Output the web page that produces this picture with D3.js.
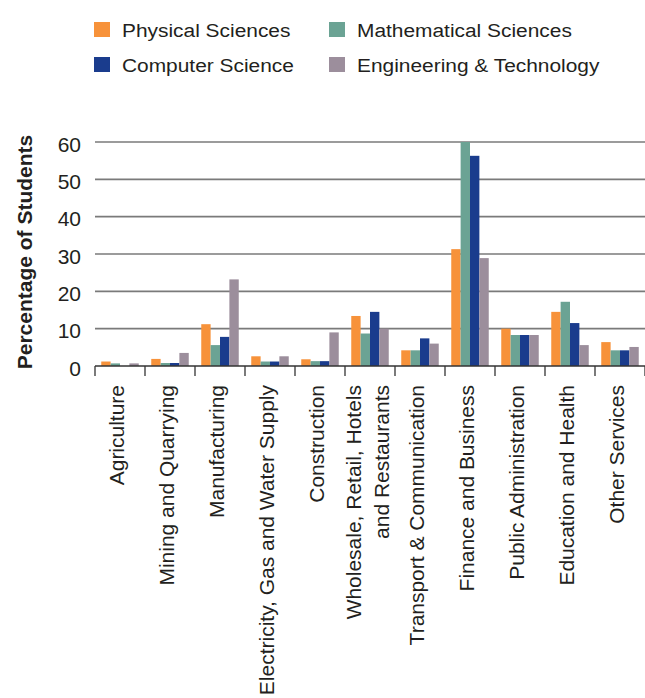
<!DOCTYPE html>
<html><head><meta charset="utf-8">
<script src="https://cdn.jsdelivr.net/npm/d3@7"></script>
<style>body{margin:0;background:#fff;} svg{display:block;font-family:"Liberation Sans",Arial,sans-serif;}</style>
</head><body>
<svg id="c" width="645" height="698"></svg>
<script>
const categories = ["Agriculture","Mining and Quarrying","Manufacturing","Electricity, Gas and Water Supply","Construction",["Wholesale, Retail, Hotels","and Restaurants"],"Transport & Communication","Finance and Business","Public Administration","Education and Health","Other Services"];
const seriesNames = ["Physical Sciences","Mathematical Sciences","Computer Science","Engineering & Technology"];
const colors = ["#F7923A","#6BA394","#1A3C8D","#9C8E9C"];
const physical = [1.2, 1.9, 11.2, 2.6, 1.8, 13.4, 4.2, 31.3, 10.0, 14.5, 6.4];
const mathematical = [0.7, 0.8, 5.6, 1.2, 1.3, 8.7, 4.2, 60, 8.3, 17.2, 4.2];
const computer = [0, 0.8, 7.8, 1.2, 1.3, 14.5, 7.4, 56.3, 8.3, 11.5, 4.2];
const engineering = [0.7, 3.5, 23.2, 2.6, 9.0, 10.0, 6.0, 28.9, 8.3, 5.6, 5.1];
const yTicks = [0,10,20,30,40,50,60];
const series = [physical, mathematical, computer, engineering];

const svg = d3.select("#c");
const catKeys = categories.map((c,i)=>i);
const x0 = d3.scaleBand().domain(catKeys).range([95,645]).paddingInner(0.25).paddingOuter(0.125);
const x1 = d3.scaleBand().domain(d3.range(series.length)).range([0,x0.bandwidth()]);
const y = d3.scaleLinear().domain([0,60]).range([366,142]);
const step = x0.step();

// gridlines
svg.append("g").selectAll("line").data(yTicks.filter(t=>t>0)).join("line")
  .attr("x1",95).attr("x2",645).attr("y1",d=>y(d)).attr("y2",d=>y(d))
  .attr("stroke","#7a7a7a").attr("stroke-width",1.6);

// y tick labels
svg.append("g").selectAll("text").data(yTicks).join("text")
  .attr("x",81).attr("y",d=>y(d)+2).attr("text-anchor","end").attr("dominant-baseline","central")
  .attr("font-size",21).attr("fill","#231f20").text(d=>d);

// bars
const g = svg.append("g");
catKeys.forEach(ci=>{
  series.forEach((s,si)=>{
    g.append("rect").attr("x",x0(ci)+x1(si)).attr("width",x1.bandwidth())
      .attr("y",y(s[ci])).attr("height",y(0)-y(s[ci])).attr("fill",colors[si]);
  });
});

// baseline & category ticks
svg.append("line").attr("x1",95).attr("x2",645).attr("y1",y(0)).attr("y2",y(0)).attr("stroke","#333").attr("stroke-width",1.5);
const bounds = d3.range(categories.length+1).map(i=>95+i*step);
svg.append("g").selectAll("line").data(bounds).join("line")
  .attr("x1",d=>d).attr("x2",d=>d).attr("y1",y(0)).attr("y2",y(0)+10)
  .attr("stroke","#333").attr("stroke-width",1.3);

// x labels
const sx = 0.92;
catKeys.forEach(ci=>{
  const cx = x0(ci)+x0.bandwidth()/2;
  const lab = categories[ci];
  const lines = Array.isArray(lab)?lab:[lab];
  const offs = lines.length===1?[4]:[-9,19];
  lines.forEach((t,li)=>{
    svg.append("text")
      .attr("transform",`translate(${cx+offs[li]},385) scale(${sx},1) rotate(-90)`)
      .attr("text-anchor","end").attr("font-size",21).attr("fill","#231f20").text(t);
  });
});

// y title
svg.append("text").attr("transform",`translate(32,252) rotate(-90)`)
  .attr("text-anchor","middle").attr("font-size",21).attr("font-weight","bold").attr("fill","#231f20")
  .text("Percentage of Students");

// legend
const legPos = [[94,37],[329,37],[94,72],[329,72]];
seriesNames.forEach((n,i)=>{
  const [lx,ly] = legPos[i];
  svg.append("rect").attr("x",lx).attr("y",ly-15).attr("width",16).attr("height",15).attr("fill",colors[i]);
  svg.append("text").attr("transform",`translate(${lx+28},${ly}) scale(1.1,1)`)
    .attr("font-size",19).attr("fill","#231f20").text(n);
});
</script>
</body></html>
